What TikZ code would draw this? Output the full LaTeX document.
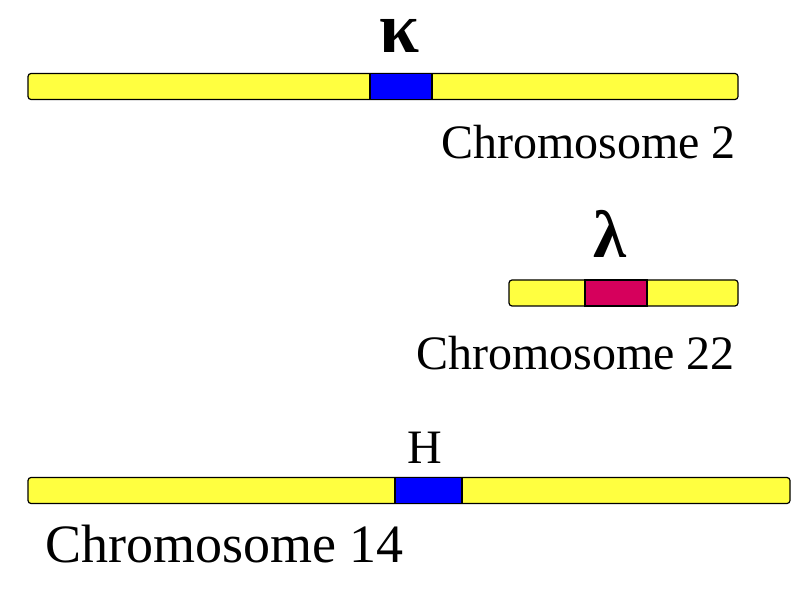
\documentclass[tikz,border=0pt]{standalone}
\usepackage{fontspec}
\setmainfont{Liberation Serif}
\definecolor{chryellow}{RGB}{255,255,64}
\definecolor{segblue}{RGB}{0,0,255}
\definecolor{segred}{RGB}{214,0,92}
\begin{document}
\begin{tikzpicture}[x=1pt,y=-1pt,
  bar/.style={draw=black, line width=1.2pt, fill=chryellow, rounded corners=3pt, inner sep=0pt, outer sep=0pt, minimum height=26pt},
  seg/.style={draw=black, line width=1.2pt, inner sep=0pt, outer sep=0pt, minimum height=26pt},
  lbl/.style={inner sep=0pt, font=\fontsize{48}{48}\selectfont},
  biglbl/.style={inner sep=0pt, font=\fontsize{54}{54}\selectfont},
  greek/.style={inner sep=0pt, text height=36pt, text depth=0pt}]
\useasboundingbox (0,0) rectangle (812,596);
% Chromosome 2
\node[bar, minimum width=710pt] (c2) at (383,86.5) {};
\node[seg, fill=segblue, minimum width=62pt] (kseg) at (401,86.5) {};
\node[greek, anchor=base, font=\bfseries\fontsize{72}{72}\selectfont] (kappa) at (399,53) {κ};
\node[lbl, anchor=base east] (c2lbl) at (736,159) {Chromosome 2};
% Chromosome 22
\node[bar, minimum width=229pt] (c22) at (623.5,293) {};
\node[seg, fill=segred, minimum width=62pt] (lseg) at (616,293) {};
\node[greek, anchor=base, text height=48pt, font=\bfseries\fontsize{67}{67}\selectfont] (lambda) at (609.5,258) {λ};
\node[lbl, anchor=base east] (c22lbl) at (735,370) {Chromosome 22};
% Chromosome 14
\node[bar, minimum width=762pt] (c14) at (409,490.5) {};
\node[seg, fill=segblue, minimum width=67pt] (hseg) at (428.5,490.5) {};
\node[lbl, anchor=base] (hlbl) at (425,463) {H};
\node[biglbl, anchor=base west] (c14lbl) at (45,562) {Chromosome 14};
\end{tikzpicture}
\end{document}
